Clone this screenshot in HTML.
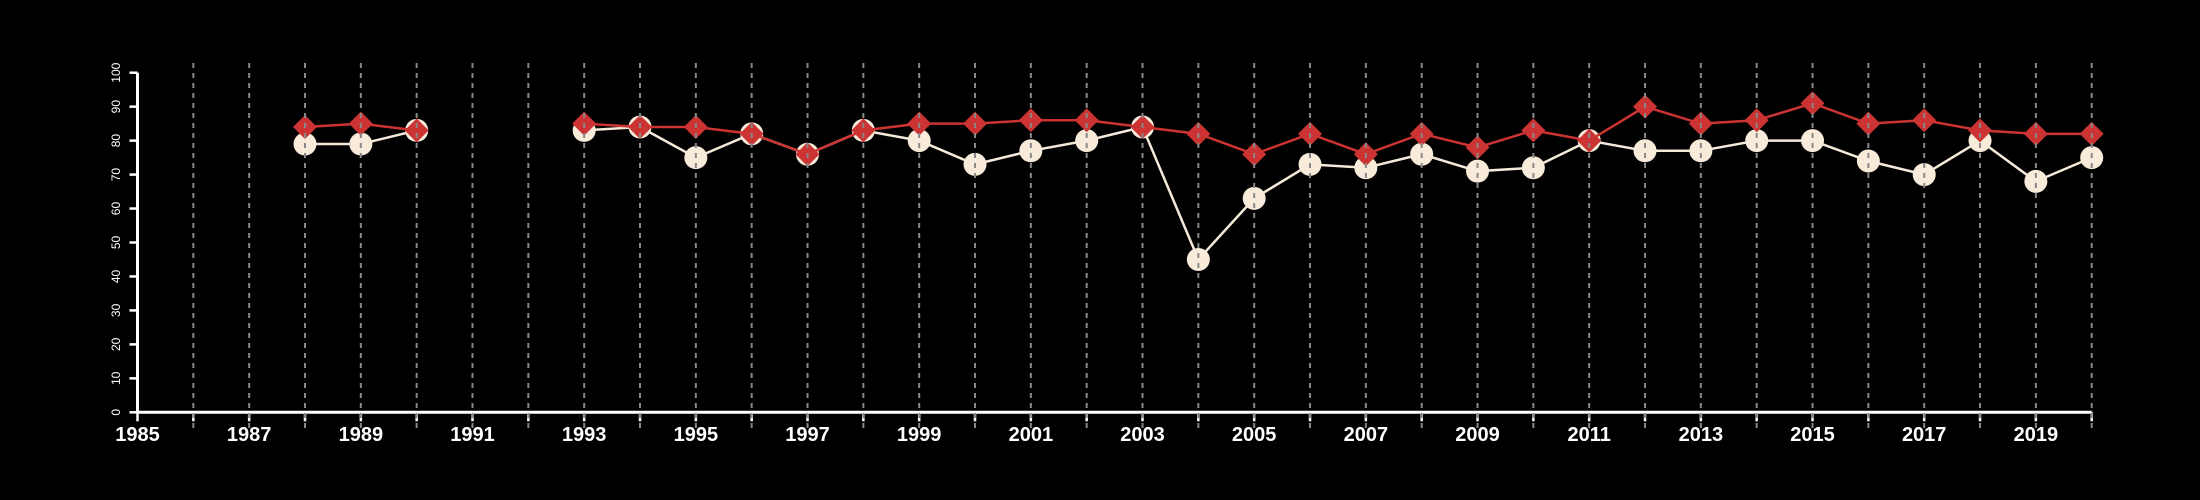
<!DOCTYPE html>
<html><head><meta charset="utf-8"><style>
html,body{margin:0;padding:0;background:#000;}
svg{display:block;font-family:"Liberation Sans",sans-serif;}
</style></head><body>
<svg id="chart" width="2200" height="500" viewBox="0 0 2200 500" xmlns="http://www.w3.org/2000/svg">
<rect width="2200" height="500" fill="#000"/>
<g id="axes"></g><g id="series"></g><g id="grid"></g>
</svg>
<script>
const years = [1988,1989,1990,1991,1992,1993,1994,1995,1996,1997,1998,1999,2000,2001,2002,2003,2004,2005,2006,2007,2008,2009,2010,2011,2012,2013,2014,2015,2016,2017,2018,2019,2020];
const whiteSeries = [79,79,83,null,null,83,84,75,82,76,83,80,73,77,80,84,45,63,73,72,76,71,72,80,77,77,80,80,74,70,80,68,75];
const redSeries = [84,85,83,null,null,85,84,84,82,76,83,85,85,86,86,84,82,76,82,76,82,78,83,80,90,85,86,91,85,86,83,82,82];
const yTicks = [0,10,20,30,40,50,60,70,80,90,100];
const xTickLabels = [1985,1987,1989,1991,1993,1995,1997,1999,2001,2003,2005,2007,2009,2011,2013,2015,2017,2019];

const NS='http://www.w3.org/2000/svg';
const x0=137.5,x1=2091.7,yr0=1985,yr1=2020;
const yb=412.3,yt=72.7;
const X=v=>x0+(v-yr0)*(x1-x0)/(yr1-yr0);
const Y=v=>yb-(v)*(yb-yt)/100;
function mk(tag,attrs,parent){const e=document.createElementNS(NS,tag);for(const k in attrs)e.setAttribute(k,attrs[k]);parent.appendChild(e);return e;}
const grid=document.getElementById('grid'),axes=document.getElementById('axes'),series=document.getElementById('series');

for(let y=1986;y<=2020;y++){
  const l=mk('line',{x1:X(y),x2:X(y),y1:63,y2:428,stroke:'#888','stroke-width':2,'stroke-dasharray':'5,5'},grid);
  
  
}
const xa=mk('line',{x1:x0,x2:x1,y1:yb,y2:yb,stroke:'#fff','stroke-width':3},axes);


for(let y=1985;y<=2020;y++){
  const t=mk('line',{x1:X(y),x2:X(y),y1:yb,y2:yb+9,stroke:'#fff','stroke-width':2.5},axes);
  
  
}
xTickLabels.forEach(v=>{
  const t=mk('text',{x:X(v),y:441,fill:'#fff','font-size':20,'font-weight':'bold','text-anchor':'middle'},axes);
  t.textContent=v;
  
  
});
const ya=mk('line',{x1:x0,x2:x0,y1:yt,y2:yb,stroke:'#fff','stroke-width':3},axes);


yTicks.forEach(v=>{
  const t=mk('line',{x1:x0-8,x2:x0,y1:Y(v),y2:Y(v),stroke:'#fff','stroke-width':2.5},axes);
  
  
  const lb=mk('text',{x:0,y:0,fill:'#fff','font-size':12,'text-anchor':'middle',transform:`translate(120,${Y(v)}) rotate(-90)`},axes);
  lb.textContent=v;
  
  
});
function lineSegs(vals,color,name){
  let d='',pen=false;
  vals.forEach((v,i)=>{if(v==null){pen=false;return;}d+=(pen?'L':'M')+X(years[i])+','+Y(v)+' ';pen=true;});
  const p=mk('path',{d:d,fill:'none',stroke:color,'stroke-width':2.5},series);
  
  
}
lineSegs(whiteSeries,'#f5ead9','white-series-line');
whiteSeries.forEach((v,i)=>{if(v==null)return;
  const c=mk('circle',{cx:X(years[i]),cy:Y(v),r:11.5,fill:'#f8ebda'},series);
  
  
});
lineSegs(redSeries,'#cc3333','red-series-line');
redSeries.forEach((v,i)=>{if(v==null)return;
  const cx=X(years[i]),cy=Y(v),s=12;
  const p=mk('polygon',{points:`${cx},${cy-s} ${cx+s},${cy} ${cx},${cy+s} ${cx-s},${cy}`,fill:'#cc3333'},series);
  
  
});
</script>
</body></html>
